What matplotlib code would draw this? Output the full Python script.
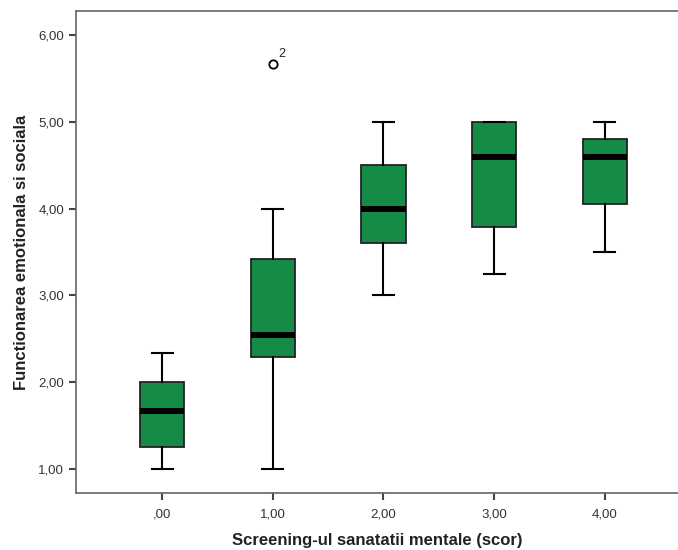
import matplotlib
matplotlib.use('Agg')
import matplotlib.pyplot as plt

plt.rcParams['font.family'] = ['Liberation Sans', 'DejaVu Sans']

# Datos (boxplot SPSS)
categorias = [',00', '1,00', '2,00', '3,00', '4,00']
bigote_inf = [1.00, 1.00, 3.00, 3.25, 3.50]
q1 = [1.25, 2.29, 3.60, 3.79, 4.05]
mediana = [1.67, 2.54, 4.00, 4.60, 4.60]
q3 = [2.00, 3.42, 4.50, 5.00, 4.80]
bigote_sup = [2.33, 4.00, 5.00, 5.00, 5.00]
atipicos = [[], [5.67], [], [], []]
etiquetas_atipicos = [[], ['2'], [], [], []]

y_ticks = [1, 2, 3, 4, 5, 6]
y_labels = ['1,00', '2,00', '3,00', '4,00', '5,00', '6,00']

stats = []
for i, cat in enumerate(categorias):
    stats.append({
        'label': cat,
        'whislo': bigote_inf[i],
        'q1': q1[i],
        'med': mediana[i],
        'q3': q3[i],
        'whishi': bigote_sup[i],
        'fliers': atipicos[i],
    })

fig = plt.figure(figsize=(6.78, 5.5), dpi=100)
ax = fig.add_axes([76 / 678, 1 - 493 / 550, 1 - 76 / 678, (493 - 11) / 550])

posiciones = list(range(len(categorias)))
ax.bxp(stats, positions=posiciones, widths=0.40, patch_artist=True,
       boxprops=dict(facecolor='#168a47', edgecolor='#222222', linewidth=1.3),
       medianprops=dict(color='black', linewidth=4.3, solid_capstyle='butt'),
       whiskerprops=dict(color='black', linewidth=1.5),
       capprops=dict(color='black', linewidth=1.5),
       capwidths=0.19,
       flierprops=dict(marker='o', markerfacecolor='white', markeredgecolor='black',
                       markersize=6, markeredgewidth=1.3))

# Etiquetas de casos atipicos
for i, valores in enumerate(atipicos):
    for v, lab in zip(valores, etiquetas_atipicos[i]):
        ax.annotate(lab, xy=(posiciones[i], v), xytext=(4, 3), textcoords='offset points',
                    fontsize=9, color='#222222', va='bottom', ha='left')

ax.set_xlim(-0.777, 4.66)
ax.set_ylim(0.72, 6.28)
ax.set_yticks(y_ticks)
ax.set_yticklabels(y_labels)
ax.set_xticks(posiciones)
ax.set_xticklabels(categorias)

for s in ['left', 'bottom', 'top']:
    ax.spines[s].set_color('#666666')
    ax.spines[s].set_linewidth(1.2)
ax.spines['right'].set_visible(False)

ax.tick_params(axis='both', colors='#444444', labelcolor='#333333', labelsize=9.5,
               length=5, width=1.5, direction='out')
ax.tick_params(axis='x', pad=6)

ax.set_xlabel('Screening-ul sanatatii mentale (scor)', fontsize=12, fontweight='bold',
              color='#222222', labelpad=9)
ax.set_ylabel('Functionarea emotionala si sociala', fontsize=12, fontweight='bold',
              color='#222222', labelpad=7)

plt.savefig('out.png', dpi=100)
